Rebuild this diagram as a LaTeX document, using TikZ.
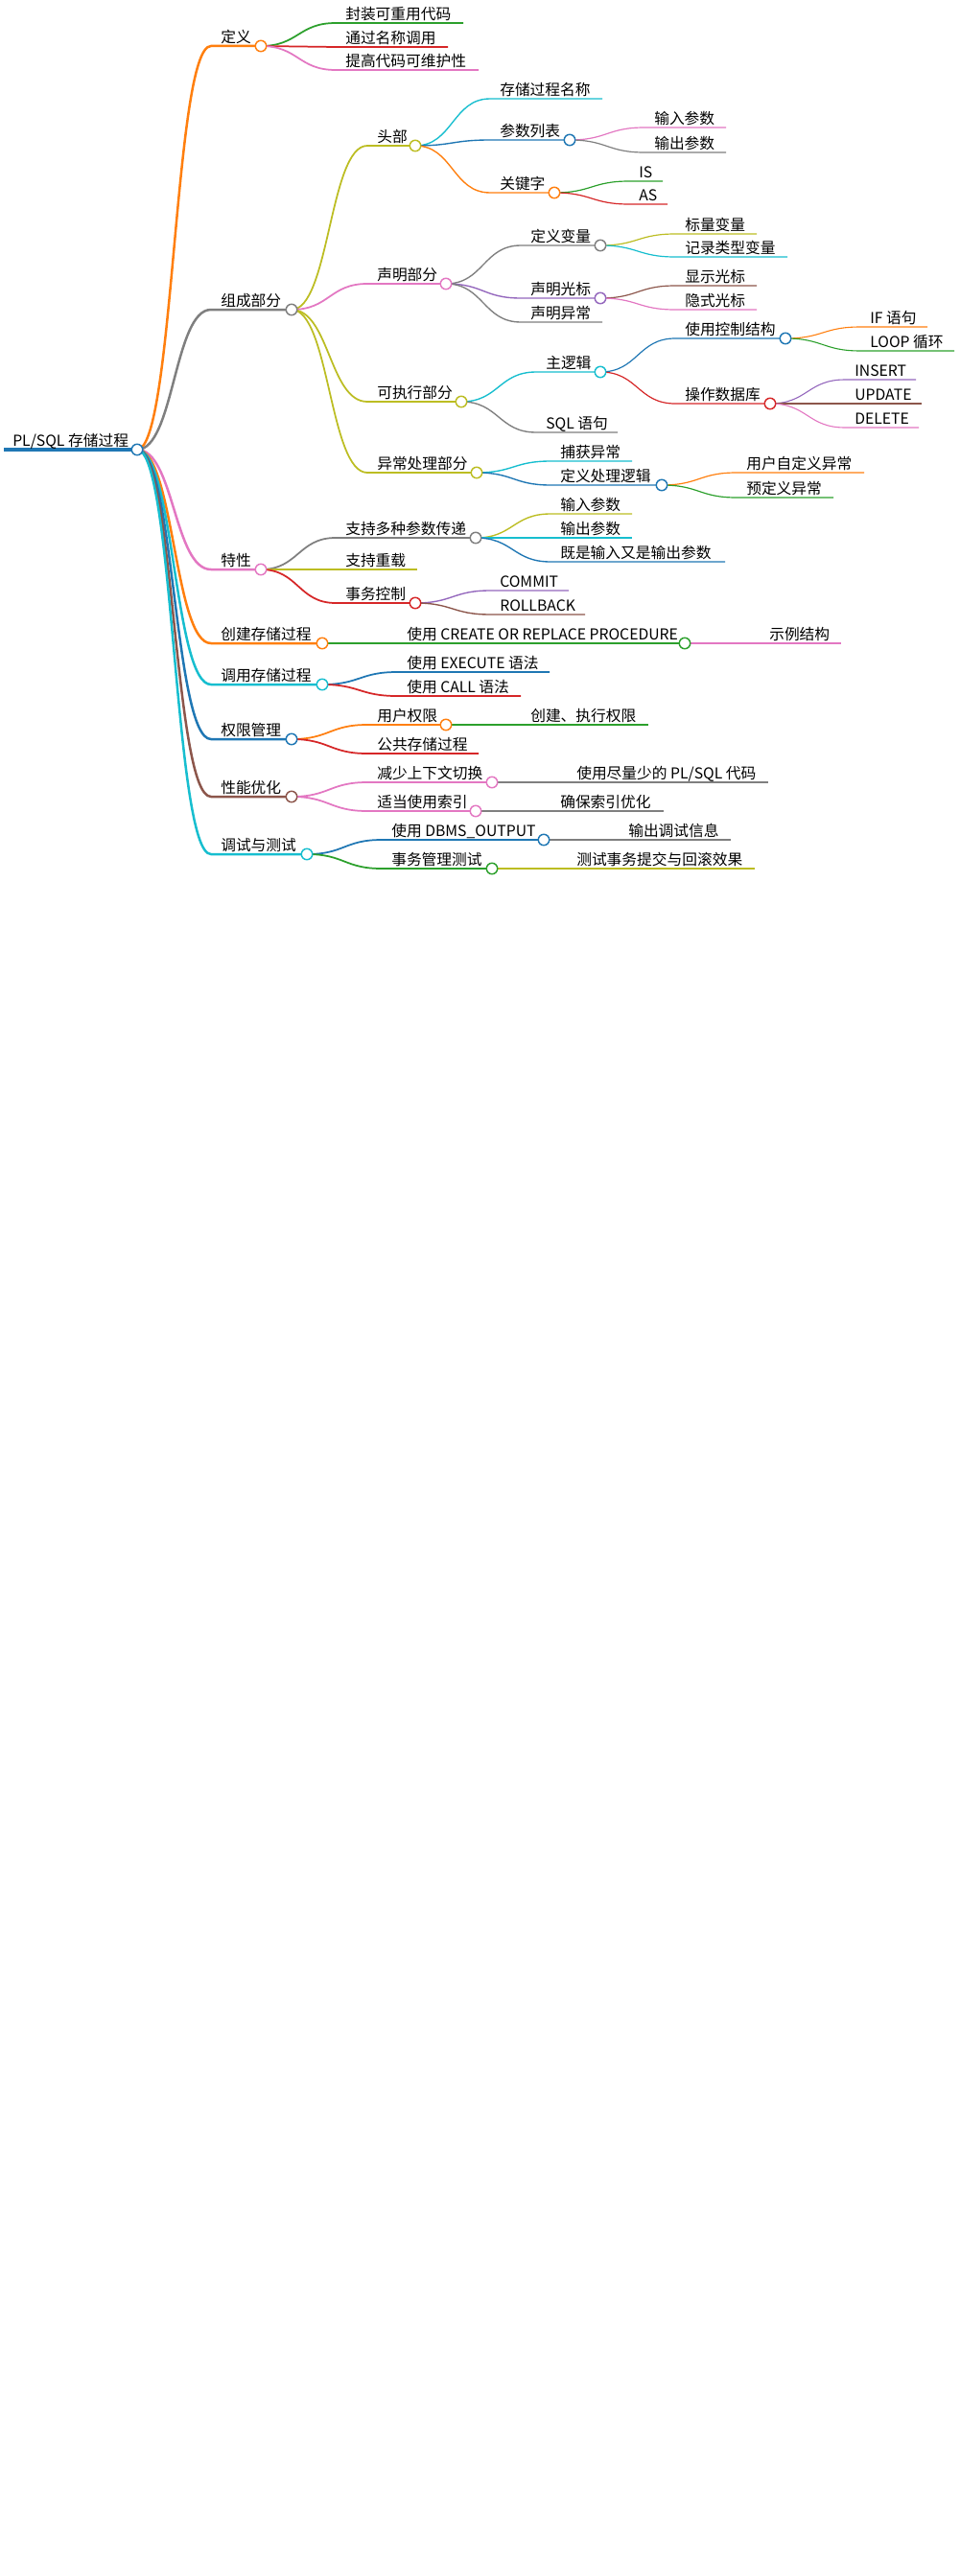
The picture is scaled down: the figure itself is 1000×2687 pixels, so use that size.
\documentclass[tikz,border=0pt]{standalone}
\usepackage{fontspec}
\setmainfont{Noto Sans CJK SC}
\usetikzlibrary{calc}
\definecolor{mblue}{HTML}{1F77B4}
\definecolor{morange}{HTML}{FF7F0E}
\definecolor{mgreen}{HTML}{2CA02C}
\definecolor{mred}{HTML}{D62728}
\definecolor{mpurple}{HTML}{9467BD}
\definecolor{mbrown}{HTML}{8C564B}
\definecolor{mpink}{HTML}{E377C2}
\definecolor{mgray}{HTML}{7F7F7F}
\definecolor{molive}{HTML}{BCBD22}
\definecolor{mcyan}{HTML}{17BECF}
\pgfdeclarelayer{front}
\pgfsetlayers{main,front}
\tikzset{
  lbl/.style={anchor=base west, inner sep=0pt, font=\fontsize{11.8pt}{14pt}\selectfont, text=black},
  dot/.style={circle, draw=#1, fill=white, line width=1.1pt, minimum size=8.6pt, inner sep=0pt},
}
% name, parent, line start x, line end x, y, colour, width, text
\newcommand\mmnode[8]{%
  \coordinate (#1-s) at (#3,#5);
  \coordinate (#1-c) at (#4,#5);
  \draw[#6, line width=#7] let \p1=(#2-c), \p2=(#1-s) in
    (#2-c) .. controls ({0.5*\x1+0.5*\x2},\y1) and ({0.5*\x1+0.5*\x2},\y2) .. (#1-s) -- (#1-c);
  \node[lbl] (#1) at ($(#1-s)+(10,-3.5)$) {#8};
}
\newcommand\mmdot[2]{\begin{pgfonlayer}{front}\node[dot=#2] (#1-dot) at (#1-c) {};\end{pgfonlayer}}
\newcommand\lwA{1.875pt}
\newcommand\lwB{1.31pt}
\newcommand\lwC{1.03pt}
\newcommand\lwD{0.89pt}
\newcommand\lwE{0.82pt}
\begin{document}
\begin{tikzpicture}[x=0.75pt,y=-0.75pt]
\fill[white] (0,0) rectangle (1000,2687);
\useasboundingbox (0,0) rectangle (1000,2687);
% root
\coordinate (r-s) at (4,469);
\coordinate (r-c) at (143,469);
\draw[mblue, line width=3pt] (r-s) -- (r-c);
\node[lbl] (r) at ($(r-s)+(9,-3.5)$) {PL/SQL 存储过程};
\mmdot{r}{mblue}
% level 1
\mmnode{a}{r}{220}{272}{48}{morange}{\lwA}{定义}
\mmnode{b}{r}{220}{304}{323}{mgray}{\lwA}{组成部分}
\mmnode{c}{r}{220}{272}{594}{mpink}{\lwA}{特性}
\mmnode{d}{r}{220}{336}{671}{morange}{\lwA}{创建存储过程}
\mmnode{e}{r}{220}{336}{714}{mcyan}{\lwA}{调用存储过程}
\mmnode{f}{r}{220}{304}{771}{mblue}{\lwA}{权限管理}
\mmnode{g}{r}{220}{304}{831}{mbrown}{\lwA}{性能优化}
\mmnode{h}{r}{220}{320}{891}{mcyan}{\lwA}{调试与测试}
% level 2
\mmnode{a1}{a}{350}{483}{24}{mgreen}{\lwB}{封装可重用代码}
\mmnode{a2}{a}{350}{467}{49}{mred}{\lwB}{通过名称调用}
\mmnode{a3}{a}{350}{499}{73}{mpink}{\lwB}{提高代码可维护性}
\mmnode{b1}{b}{383}{433}{152}{molive}{\lwB}{头部}
\mmnode{b2}{b}{383}{465}{296}{mpink}{\lwB}{声明部分}
\mmnode{b3}{b}{383}{481}{419}{molive}{\lwB}{可执行部分}
\mmnode{b4}{b}{383}{497}{493}{molive}{\lwB}{异常处理部分}
\mmnode{c1}{c}{350}{496}{561}{mgray}{\lwB}{支持多种参数传递}
\mmnode{c2}{c}{350}{435}{594}{molive}{\lwB}{支持重载}
\mmnode{c3}{c}{350}{433}{629}{mred}{\lwB}{事务控制}
\mmnode{d1}{d}{414}{714}{671}{mgreen}{\lwB}{使用 CREATE OR REPLACE PROCEDURE}
\mmnode{e1}{e}{414}{573}{701}{mblue}{\lwB}{使用 EXECUTE 语法}
\mmnode{e2}{e}{414}{543}{726}{mred}{\lwB}{使用 CALL 语法}
\mmnode{f1}{f}{383}{465}{756}{morange}{\lwB}{用户权限}
\mmnode{f2}{f}{383}{499}{786}{mred}{\lwB}{公共存储过程}
\mmnode{g1}{g}{383}{513}{816}{mpink}{\lwB}{减少上下文切换}
\mmnode{g2}{g}{383}{496}{846}{mpink}{\lwB}{适当使用索引}
\mmnode{h1}{h}{398}{567}{876}{mblue}{\lwB}{使用 DBMS\_OUTPUT}
\mmnode{h2}{h}{398}{513}{906}{mgreen}{\lwB}{事务管理测试}
% level 3
\mmnode{b1a}{b1}{511}{628}{103}{mcyan}{\lwC}{存储过程名称}
\mmnode{b1b}{b1}{511}{594}{146}{mblue}{\lwC}{参数列表}
\mmnode{b1c}{b1}{511}{578}{201}{morange}{\lwC}{关键字}
\mmnode{b2a}{b2}{543}{626}{256}{mgray}{\lwC}{定义变量}
\mmnode{b2b}{b2}{543}{626}{311}{mpurple}{\lwC}{声明光标}
\mmnode{b2c}{b2}{543}{628}{336}{mgray}{\lwC}{声明异常}
\mmnode{b3a}{b3}{559}{626}{388}{mcyan}{\lwC}{主逻辑}
\mmnode{b3b}{b3}{559}{644}{451}{mgray}{\lwC}{SQL 语句}
\mmnode{b4a}{b4}{574}{659}{481}{mcyan}{\lwC}{捕获异常}
\mmnode{b4b}{b4}{574}{690}{506}{mblue}{\lwC}{定义处理逻辑}
\mmnode{c1a}{c1}{574}{659}{536}{molive}{\lwC}{输入参数}
\mmnode{c1b}{c1}{574}{659}{561}{mcyan}{\lwC}{输出参数}
\mmnode{c1c}{c1}{574}{756}{586}{mblue}{\lwC}{既是输入又是输出参数}
\mmnode{c3a}{c3}{511}{593}{616}{mpurple}{\lwC}{COMMIT}
\mmnode{c3b}{c3}{511}{610}{641}{mbrown}{\lwC}{ROLLBACK}
\mmnode{d1a}{d1}{792}{877}{671}{mpink}{\lwC}{示例结构}
\mmnode{f1a}{f1}{543}{676}{756}{mgreen}{\lwC}{创建、执行权限}
\mmnode{g1a}{g1}{591}{801}{816}{mgray}{\lwC}{使用尽量少的 PL/SQL 代码}
\mmnode{g2a}{g2}{574}{692}{846}{mgray}{\lwC}{确保索引优化}
\mmnode{h1a}{h1}{645}{762}{876}{mgray}{\lwC}{输出调试信息}
\mmnode{h2a}{h2}{591}{787}{906}{molive}{\lwC}{测试事务提交与回滚效果}
% level 4
\mmnode{b1b1}{b1b}{672}{757}{133}{mpink}{\lwD}{输入参数}
\mmnode{b1b2}{b1b}{672}{757}{159}{mgray}{\lwD}{输出参数}
\mmnode{b1c1}{b1c}{656}{691}{189}{mgreen}{\lwD}{IS}
\mmnode{b1c2}{b1c}{656}{696}{213}{mred}{\lwD}{AS}
\mmnode{b2a1}{b2a}{704}{789}{244}{molive}{\lwD}{标量变量}
\mmnode{b2a2}{b2a}{704}{821}{268}{mcyan}{\lwD}{记录类型变量}
\mmnode{b2b1}{b2b}{704}{789}{298}{mbrown}{\lwD}{显示光标}
\mmnode{b2b2}{b2b}{704}{789}{323}{mpink}{\lwD}{隐式光标}
\mmnode{b3a1}{b3a}{704}{819}{353}{mblue}{\lwD}{使用控制结构}
\mmnode{b3a2}{b3a}{704}{803}{421}{mred}{\lwD}{操作数据库}
\mmnode{b4b1}{b4b}{768}{901}{493}{morange}{\lwD}{用户自定义异常}
\mmnode{b4b2}{b4b}{768}{869}{519}{mgreen}{\lwD}{预定义异常}
% level 5
\mmnode{b3a1a}{b3a1}{897}{967}{341}{morange}{\lwE}{IF 语句}
\mmnode{b3a1b}{b3a1}{897}{995}{366}{mgreen}{\lwE}{LOOP 循环}
\mmnode{b3a2a}{b3a2}{881}{955}{396}{mpurple}{\lwE}{INSERT}
\mmnode{b3a2b}{b3a2}{881}{961}{421}{mbrown}{\lwE}{UPDATE}
\mmnode{b3a2c}{b3a2}{881}{958}{446}{mpink}{\lwE}{DELETE}
% circles
\mmdot{a}{morange}\mmdot{b}{mgray}\mmdot{c}{mpink}\mmdot{d}{morange}
\mmdot{e}{mcyan}\mmdot{f}{mblue}\mmdot{g}{mbrown}\mmdot{h}{mcyan}
\mmdot{b1}{molive}\mmdot{b2}{mpink}\mmdot{b3}{molive}\mmdot{b4}{molive}
\mmdot{c1}{mgray}\mmdot{c3}{mred}\mmdot{d1}{mgreen}\mmdot{f1}{morange}
\mmdot{g1}{mpink}\mmdot{g2}{mpink}\mmdot{h1}{mblue}\mmdot{h2}{mgreen}
\mmdot{b1b}{mblue}\mmdot{b1c}{morange}\mmdot{b2a}{mgray}\mmdot{b2b}{mpurple}
\mmdot{b3a}{mcyan}\mmdot{b4b}{mblue}
\mmdot{b3a1}{mblue}\mmdot{b3a2}{mred}
\end{tikzpicture}
\end{document}
